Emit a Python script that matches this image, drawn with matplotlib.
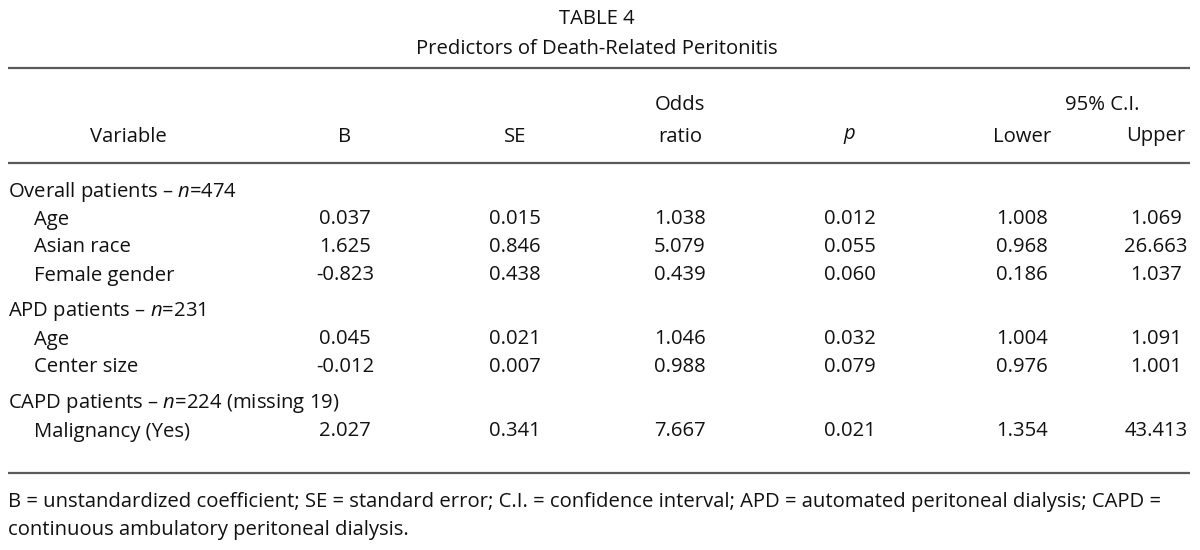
import numpy as np
import matplotlib.pyplot as plt

plt.rcParams['font.family'] = ['Open Sans', 'DejaVu Sans']
plt.rcParams['mathtext.fontset'] = 'custom'
plt.rcParams['mathtext.rm'] = 'Open Sans'
plt.rcParams['mathtext.it'] = 'Open Sans:italic'
plt.rcParams['text.color'] = '#111111'

title = 'TABLE 4'
subtitle = 'Predictors of Death-Related Peritonitis'

sections = ['Overall patients \u2013 $n$=474',
            'APD patients \u2013 $n$=231',
            'CAPD patients \u2013 $n$=224 (missing 19)']
section_rows = [3, 2, 1]

variables = ['Age', 'Asian race', 'Female gender',
             'Age', 'Center size',
             'Malignancy (Yes)']
b_coef = [0.037, 1.625, -0.823, 0.045, -0.012, 2.027]
se = [0.015, 0.846, 0.438, 0.021, 0.007, 0.341]
odds_ratio = [1.038, 5.079, 0.439, 1.046, 0.988, 7.667]
p_value = [0.012, 0.055, 0.060, 0.032, 0.079, 0.021]
ci_lower = [1.008, 0.968, 0.186, 1.004, 0.976, 1.354]
ci_upper = [1.069, 26.663, 1.037, 1.091, 1.001, 43.413]

footnote = ['B = unstandardized coefficient; SE = standard error; C.I. = confidence interval; '
            'APD = automated peritoneal dialysis; CAPD =',
            'continuous ambulatory peritoneal dialysis.']

fs = 14.6
dy = 2.5  # small nudge so text sits where the reference has it
col_x = [345, 515, 680, 850, 1022, 1156]
line_col = '#5a5a5a'

fig = plt.figure(figsize=(12, 5.5), dpi=100)
ax = fig.add_axes([0, 0, 1, 1])
ax.set_xlim(0, 1200)
ax.set_ylim(550, 0)
ax.axis('off')


def put(x, y, s, ha='center'):
    ax.text(x, y + dy, s, ha=ha, va='center', fontsize=fs)


put(597, 17, title)
put(597, 46, subtitle)

for y in [68, 163, 473]:
    ax.plot([8, 1190], [y, y], color=line_col, lw=1.6, solid_capstyle='butt')

# header
put(128, 134, 'Variable')
put(col_x[0], 134, 'B')
put(col_x[1], 134, 'SE')
put(col_x[2], 103, 'Odds')
put(col_x[2], 134, 'ratio')
put(col_x[3], 134, '$p$')
put(1102, 103, '95% C.I.')
put(col_x[4], 134, 'Lower')
put(col_x[5], 134, 'Upper')

# body
columns = [b_coef, se, odds_ratio, p_value, ci_lower, ci_upper]
y = 189
i = 0
for sec, nrows in zip(sections, section_rows):
    put(8, y, sec, ha='left')
    y += 28
    for _ in range(nrows):
        put(34, y, variables[i], ha='left')
        for cx, col in zip(col_x, columns):
            put(cx, y, f'{col[i]:.3f}')
        y += 28
        i += 1
    y += 8

put(8, 500, footnote[0], ha='left')
put(8, 527, footnote[1], ha='left')

fig.savefig('out.png', dpi=100)
